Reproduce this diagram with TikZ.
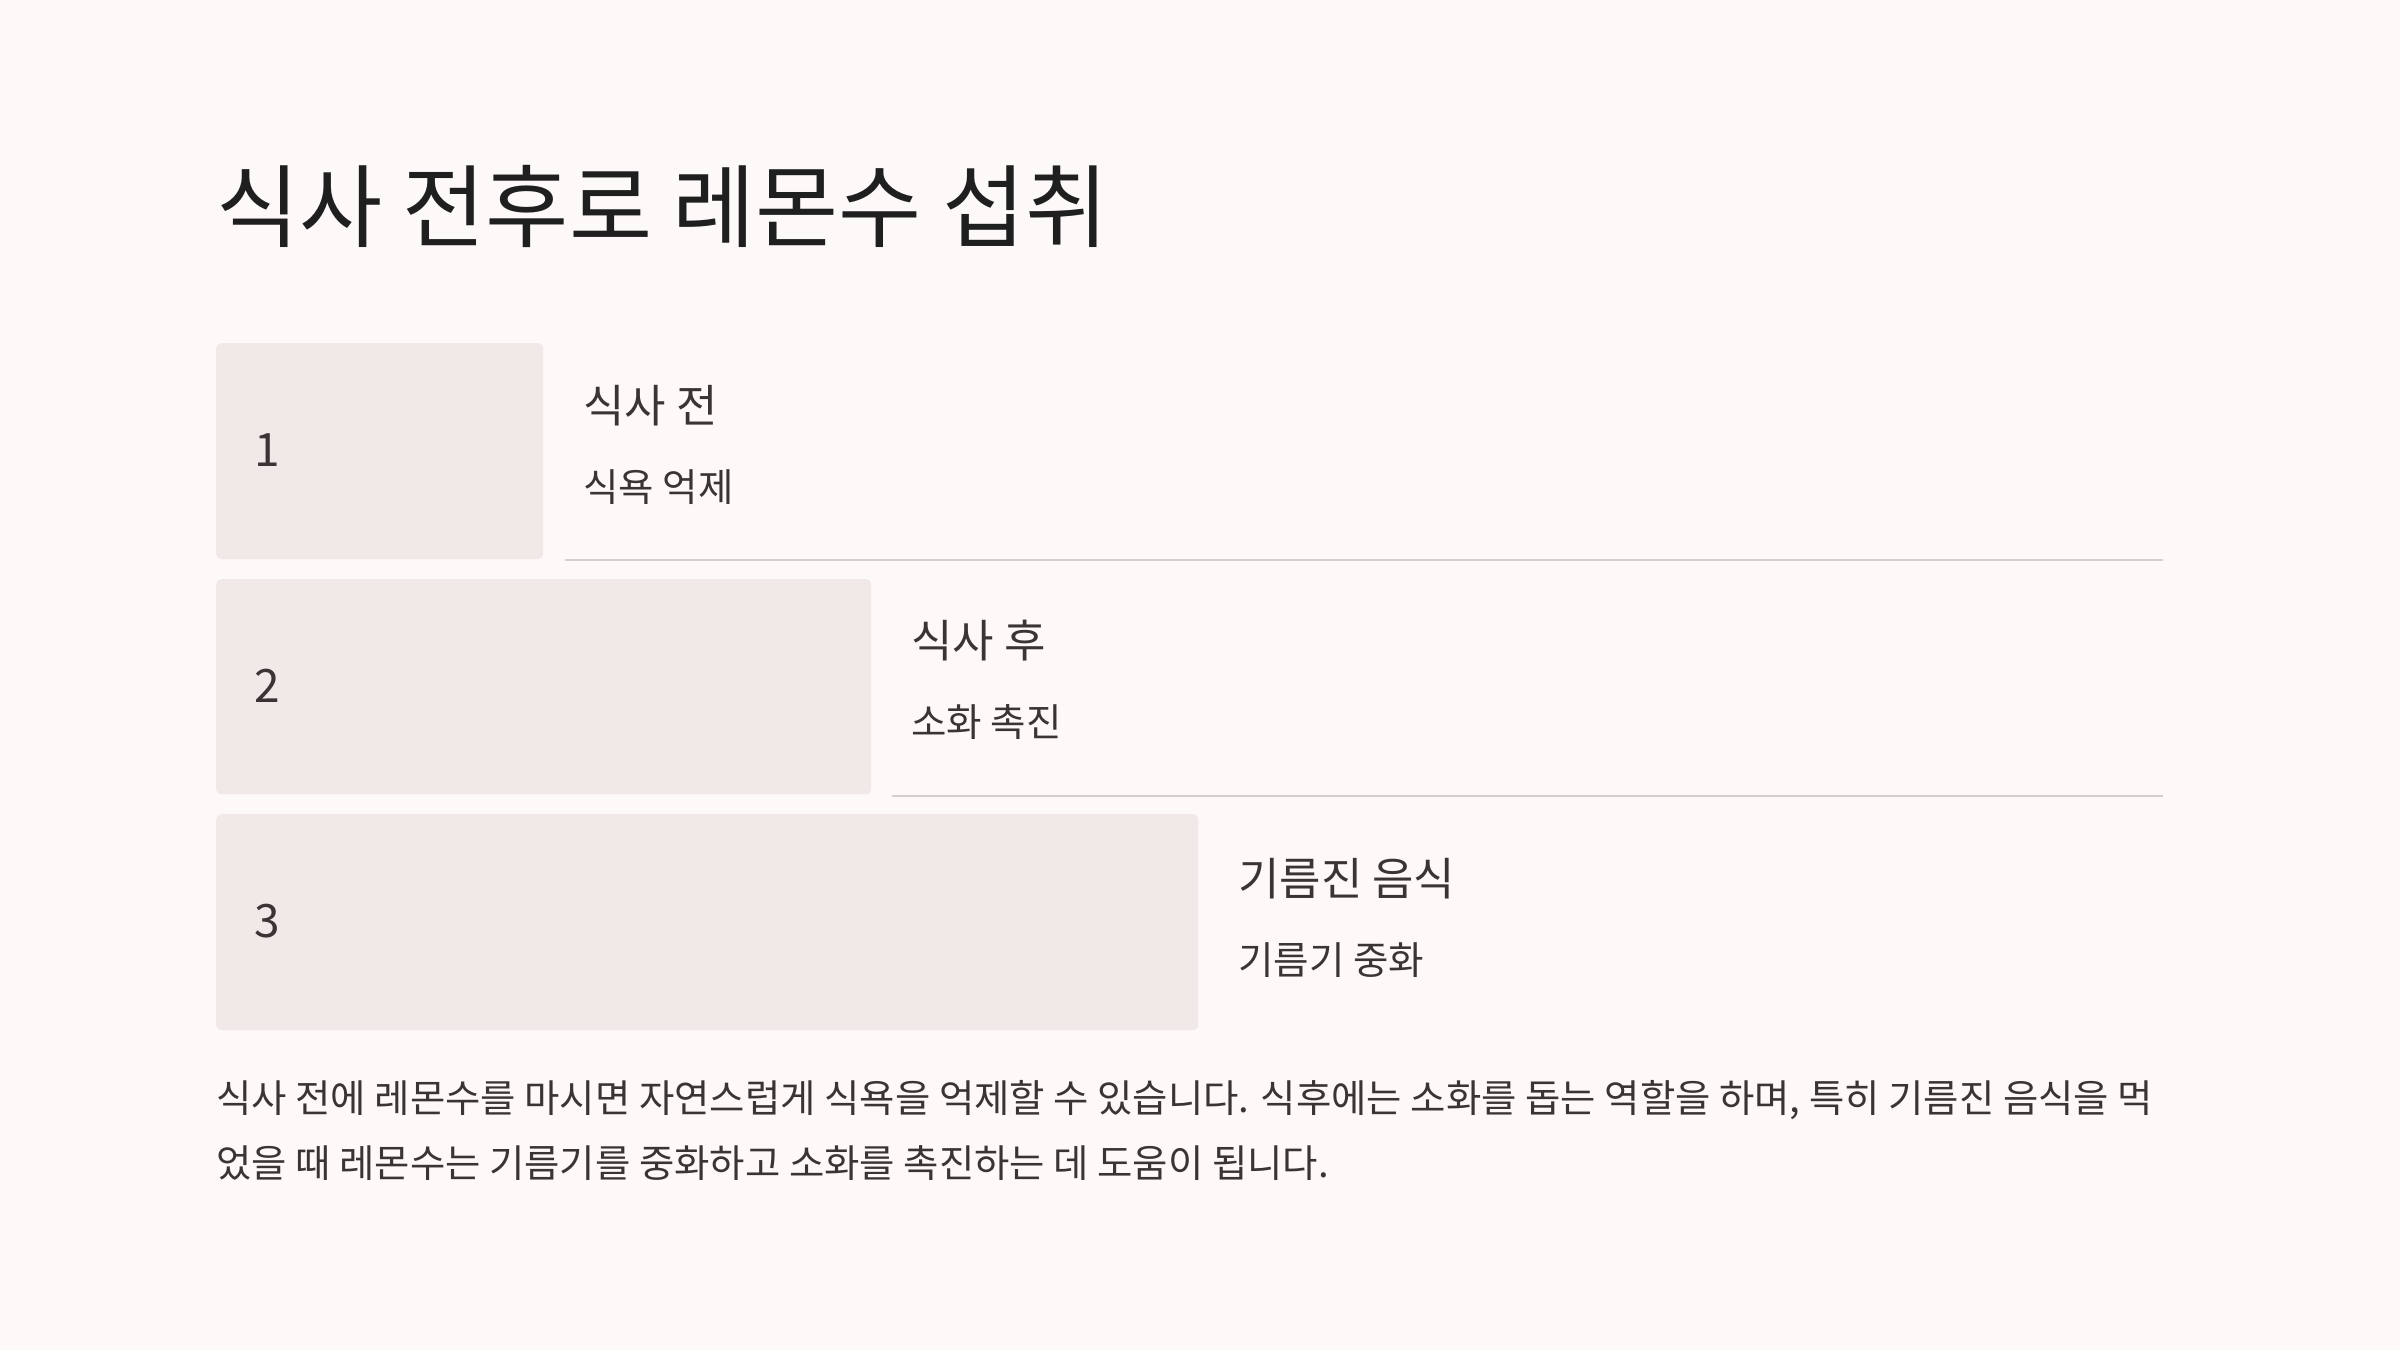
\documentclass[tikz,border=0pt]{standalone}
\usepackage{fontspec}
\setmainfont{Noto Sans CJK KR}
\definecolor{bg}{HTML}{FDF9F8}
\definecolor{boxfill}{HTML}{F1E8E8}
\definecolor{rule}{HTML}{D6CDCD}
\definecolor{titlecol}{HTML}{1F1F1F}
\definecolor{textcol}{HTML}{3A3434}
\begin{document}
\begin{tikzpicture}[x=1pt,y=-1pt,
  stepbox/.style={fill=boxfill, rounded corners=5pt, inner sep=0pt, anchor=north west},
  num/.style={anchor=west, inner sep=0pt, text=textcol, font=\fontsize{46}{52}\selectfont},
  head/.style={anchor=west, inner sep=0pt, text=textcol, font=\fontsize{45}{52}\selectfont},
  sub/.style={anchor=west, inner sep=0pt, text=textcol, font=\fontsize{38.5}{45}\selectfont},
  body/.style={anchor=west, inner sep=0pt, text=textcol, font=\fontsize{38.4}{45}\selectfont},
  rulestyle/.style={draw=rule, line width=2pt}]
\useasboundingbox[fill=bg] (0,0) rectangle (2400,1350);

\node[anchor=west, inner sep=0pt, text=titlecol, font=\fontsize{90.4}{100}\selectfont] (title) at (216,206) {식사 전후로 레몬수 섭취};

\node[stepbox, minimum width=327pt, minimum height=216pt] (b1) at (216,343) {};
\node[stepbox, minimum width=655pt, minimum height=215pt] (b2) at (216,579) {};
\node[stepbox, minimum width=982pt, minimum height=216pt] (b3) at (216,814) {};

\node[num] (n1) at (254,450) {1};
\node[num] (n2) at (254,686) {2};
\node[num] (n3) at (254,921) {3};

\node[head] (h1) at (583,406) {식사 전};
\node[sub] (s1) at (583,487) {식욕 억제};
\node[head] (h2) at (911,641) {식사 후};
\node[sub] (s2) at (911,722) {소화 촉진};
\node[head] (h3) at (1238,879) {기름진 음식};
\node[sub] (s3) at (1238,960) {기름기 중화};

\coordinate (l1a) at (565,560);
\coordinate (l1b) at (2163,560);
\coordinate (l2a) at (892,796);
\coordinate (l2b) at (2163,796);
\draw[rulestyle] (l1a) -- (l1b);
\draw[rulestyle] (l2a) -- (l2b);

\node[body] (p1) at (216,1100) {식사 전에 레몬수를 마시면 자연스럽게 식욕을 억제할 수 있습니다. 식후에는 소화를 돕는 역할을 하며, 특히 기름진 음식을 먹};
\node[body] (p2) at (216,1163) {었을 때 레몬수는 기름기를 중화하고 소화를 촉진하는 데 도움이 됩니다.};
\end{tikzpicture}
\end{document}
